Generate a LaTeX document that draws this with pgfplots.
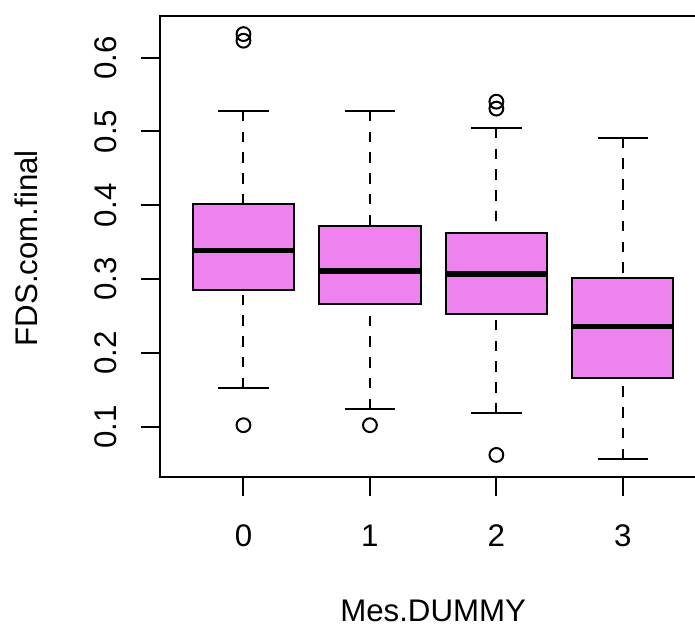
\documentclass[border=0pt]{standalone}
\usepackage{fontspec}
\setmainfont{Liberation Sans}
\usepackage{pgfplots}
\pgfplotsset{compat=1.18}
\usepgfplotslibrary{statistics}

\definecolor{rviolet}{RGB}{238,130,238}
\newcommand{\rfont}{\fontsize{31.25pt}{37.5pt}\selectfont}

% whiskers: dashed stem from the whisker end to the box, solid staple
\pgfplotsset{
  boxplot/draw/lower whisker/.code={%
    \draw[/pgfplots/boxplot/every whisker/.try, dash pattern=on 10.4pt off 10.4pt]
      (boxplot box cs:\pgfplotsboxplotvalue{lower whisker},0.5)
      -- (boxplot box cs:\pgfplotsboxplotvalue{lower quartile},0.5);
    \draw[/pgfplots/boxplot/every whisker/.try]
      (boxplot whisker cs:\pgfplotsboxplotvalue{lower whisker},0)
      -- (boxplot whisker cs:\pgfplotsboxplotvalue{lower whisker},1);
  },
  boxplot/draw/upper whisker/.code={%
    \draw[/pgfplots/boxplot/every whisker/.try, dash pattern=on 10.4pt off 10.4pt]
      (boxplot box cs:\pgfplotsboxplotvalue{upper whisker},0.5)
      -- (boxplot box cs:\pgfplotsboxplotvalue{upper quartile},0.5);
    \draw[/pgfplots/boxplot/every whisker/.try]
      (boxplot whisker cs:\pgfplotsboxplotvalue{upper whisker},0)
      -- (boxplot whisker cs:\pgfplotsboxplotvalue{upper whisker},1);
  },
  boxplot/every box/.style={draw=black, fill=rviolet, line width=2pt},
  boxplot/every whisker/.style={black, line width=2pt},
  boxplot/every median/.style={black, line width=5.6pt, line cap=butt},
  rbox/.style={
    black, mark=o, mark size=6.9pt,
    mark options={solid, line width=2pt, fill=none},
  },
}

\begin{document}
\begin{tikzpicture}[font=\rfont]
\path[use as bounding box, clip] (-160pt,-146.3pt) rectangle (535pt,476.7pt);
\begin{axis}[
  at={(0pt,0pt)}, anchor=south west,
  scale only axis,
  width=546.3pt, height=460.7pt,
  xmin=0.34, xmax=4.66,
  ymin=0.0322, ymax=0.6565,
  boxplot/draw direction=y,
  boxplot/box extend=0.8,
  boxplot/whisker extend=0.4,
  xtick={1,2,3,4},
  xticklabels={0,1,2,3},
  ytick={0.1,0.2,0.3,0.4,0.5,0.6},
  yticklabels={0.1,0.2,0.3,0.4,0.5,0.6},
  xtick pos=bottom, ytick pos=left,
  tick align=outside,
  major tick length=19.3pt,
  tick style={black, line width=2pt},
  axis line style={black, line width=2pt},
  /pgf/number format/assume math mode=true,
  tick label style={font=\rfont},
  xticklabel style={anchor=base, yshift=-50.7pt},
  yticklabel style={xshift=-24pt, rotate=90, anchor=base},
  every axis x label/.style={at={(axis description cs:0.5,0)}, yshift=-144.8pt, anchor=base, font=\rfont},
  every axis y label/.style={at={(axis description cs:0,0.496)}, xshift=-122.7pt, rotate=90, anchor=base, font=\rfont},
  xlabel={Mes.DUMMY},
  ylabel={FDS.com.final},
]
% group 0
\addplot[rbox, boxplot prepared={draw position=1,
  lower whisker=0.152, lower quartile=0.285, median=0.3385,
  upper quartile=0.4015, upper whisker=0.528}]
  table[row sep=\\, y index=0] {v\\ 0.102\\ 0.623\\ 0.632\\};
% group 1
\addplot[rbox, boxplot prepared={draw position=2,
  lower whisker=0.1236, lower quartile=0.2663, median=0.311,
  upper quartile=0.372, upper whisker=0.528}]
  table[row sep=\\, y index=0] {v\\ 0.102\\};
% group 2
\addplot[rbox, boxplot prepared={draw position=3,
  lower whisker=0.118, lower quartile=0.2531, median=0.3065,
  upper quartile=0.362, upper whisker=0.505}]
  table[row sep=\\, y index=0] {v\\ 0.0617\\ 0.531\\ 0.5404\\};
% group 3
\addplot[rbox, boxplot prepared={draw position=4,
  lower whisker=0.0558, lower quartile=0.1664, median=0.2355,
  upper quartile=0.302, upper whisker=0.4916}]
  coordinates {};
\end{axis}
\end{tikzpicture}
\end{document}
